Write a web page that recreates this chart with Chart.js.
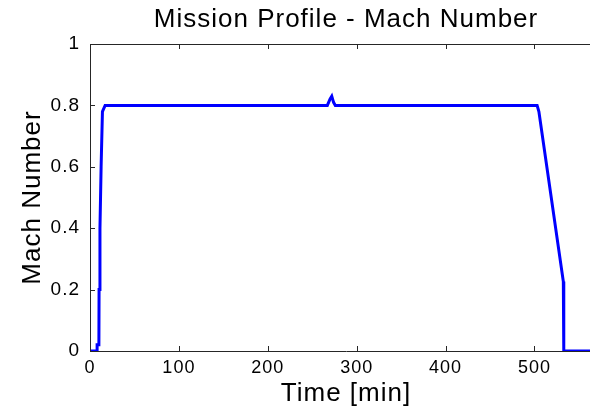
<!DOCTYPE html>
<html>
<head>
<meta charset="utf-8">
<script src="https://cdn.jsdelivr.net/npm/chart.js@4/dist/chart.umd.min.js"></script>
<style>
  html, body { margin: 0; padding: 0; background: #fff; overflow: hidden; }
  #caja { width: 602px; height: 409px; }
</style>
</head>
<body>
<div id="caja"><canvas id="grafica"></canvas></div>
<script>
// Datos
const TIEMPO = [0, 8, 8, 10, 10.2, 11.2, 12.5, 14, 17, 267, 270, 272, 274, 276, 503, 505, 532.5, 533, 580];
const MACH   = [0, 0, 0.02, 0.02, 0.2, 0.4, 0.6, 0.78, 0.8, 0.8, 0.82, 0.83, 0.81, 0.8, 0.8, 0.78, 0.226, 0, 0];
const TICKS_X = [0, 100, 200, 300, 400, 500];
const TICKS_Y = [0, 0.2, 0.4, 0.6, 0.8, 1];

const FUENTE = '"Liberation Sans", Arial, sans-serif';
const EJE = '#262626';

// letras un poco más abiertas, como en la figura original
const espaciado = {
  id: 'espaciado',
  beforeDraw(chart) { chart.ctx.letterSpacing = '1px'; }
};

// marco superior y marcas hacia dentro (estilo matlab)
const marco = {
  id: 'marco',
  afterDraw(chart) {
    const { ctx, chartArea: a, scales } = chart;
    ctx.save();
    ctx.strokeStyle = EJE;
    ctx.lineWidth = 1;
    ctx.beginPath();
    ctx.moveTo(a.left, a.top + 0.5);
    ctx.lineTo(a.right, a.top + 0.5);
    TICKS_X.forEach(v => {
      const px = Math.round(scales.x.getPixelForValue(v)) + 0.5;
      ctx.moveTo(px, a.bottom); ctx.lineTo(px, a.bottom - 5);
      ctx.moveTo(px, a.top);    ctx.lineTo(px, a.top + 5);
    });
    TICKS_Y.forEach(v => {
      const py = Math.round(scales.y.getPixelForValue(v)) + 0.5;
      ctx.moveTo(a.left, py); ctx.lineTo(a.left + 5, py);
    });
    ctx.stroke();
    ctx.restore();
  }
};

new Chart(document.getElementById('grafica'), {
  type: 'line',
  data: {
    datasets: [{
      data: TIEMPO.map((t, i) => ({ x: t, y: MACH[i] })),
      borderColor: '#0000FF',
      borderWidth: 3,
      pointRadius: 0,
      tension: 0,
      fill: false
    }]
  },
  options: {
    responsive: true,
    maintainAspectRatio: false,
    animation: false,
    layout: { padding: 0 },
    plugins: {
      legend: { display: false },
      tooltip: { enabled: false },
      title: {
        display: true,
        text: 'Mission Profile - Mach Number',
        fullSize: false,
        color: '#000',
        font: { family: FUENTE, size: 26, weight: 'normal' },
        padding: { top: 4, bottom: 8.8 }
      }
    },
    scales: {
      x: {
        type: 'linear',
        min: 0,
        max: 576,
        grid: { display: false },
        border: { display: true, color: EJE, width: 1 },
        afterBuildTicks: s => { s.ticks = TICKS_X.map(v => ({ value: v })); },
        afterFit: s => { s.height = 58; },
        ticks: { color: '#000', padding: -2, maxRotation: 0, font: { family: FUENTE, size: 18 } },
        title: {
          display: true, text: 'Time [min]', color: '#000',
          font: { family: FUENTE, size: 26 }, padding: { top: 0, bottom: 0 }
        }
      },
      y: {
        min: 0,
        max: 1,
        grid: { display: false },
        border: { display: true, color: EJE, width: 1 },
        afterBuildTicks: s => { s.ticks = TICKS_Y.map(v => ({ value: v })); },
        afterFit: s => { s.width = 90; },
        ticks: {
          color: '#000', padding: 2, font: { family: FUENTE, size: 19 },
          callback: v => String(Number(v.toFixed(1)))
        },
        title: {
          display: true, text: 'Mach Number', color: '#000',
          font: { family: FUENTE, size: 26 }, padding: { top: 17, bottom: 0 }
        }
      }
    }
  },
  plugins: [espaciado, marco]
});
</script>
</body>
</html>
